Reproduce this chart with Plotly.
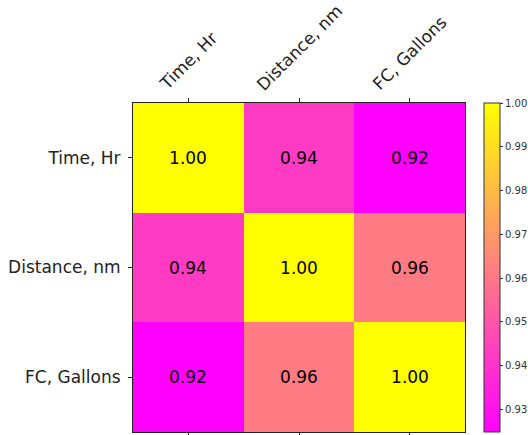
import plotly.graph_objects as go

labels = ["Time, Hr", "Distance, nm", "FC, Gallons"]
corr = [
    [1.00, 0.9422, 0.9248],
    [0.9422, 1.00, 0.9610],
    [0.9248, 0.9610, 1.00],
]
cbar_ticks = [0.93, 0.94, 0.95, 0.96, 0.97, 0.98, 0.99, 1.00]

zmin = min(min(r) for r in corr)

fig = go.Figure(go.Heatmap(
    z=corr, x=labels, y=labels,
    colorscale=[[0, "#ff00ff"], [1, "#ffff00"]],
    zmin=zmin, zmax=1.0,
    texttemplate="%{z:.2f}",
    textfont=dict(size=17, color="black", family="DejaVu Sans"),
    xgap=0, ygap=0,
    colorbar=dict(
        x=1.057, xanchor="left", xpad=0, ypad=0,
        y=0, yanchor="bottom", len=1, lenmode="fraction",
        thickness=16, outlinewidth=1, outlinecolor="#333",
        tickvals=cbar_ticks, ticktext=[f"{v:.2f}" for v in cbar_ticks],
        ticks="outside", ticklen=3, tickwidth=1, tickcolor="#333",
        tickfont=dict(size=10, color="#333", family="DejaVu Sans"),
    ),
))

# rotated column labels, centred over their ticks (matplotlib style)
for lab in labels:
    fig.add_annotation(
        x=lab, xref="x", y=1, yref="paper",
        text=lab, textangle=-45, showarrow=False,
        xanchor="center", yanchor="bottom", yshift=6,
        font=dict(size=17, color="#222", family="DejaVu Sans"),
    )

fig.update_xaxes(
    side="top", ticks="outside", ticklen=4, tickcolor="#222",
    showticklabels=False,
    showline=True, linecolor="#222", linewidth=1, mirror="ticks",
    showgrid=False, zeroline=False, automargin=False,
)
fig.update_yaxes(
    autorange="reversed", ticks="outside", ticklen=4, tickcolor="#222",
    showline=True, linecolor="#222", linewidth=1, mirror=True,
    tickfont=dict(size=17, color="#222", family="DejaVu Sans"),
    ticklabelstandoff=4,
    showgrid=False, zeroline=False, automargin=False,
)
fig.update_layout(
    width=528, height=435,
    margin=dict(l=133, r=63, t=103, b=3, autoexpand=False),
    paper_bgcolor="white", plot_bgcolor="white",
)
fig.write_html(
    "out.html",
    config={"displayModeBar": False},
    post_script="document.body.style.margin='0';document.body.style.overflow='hidden';",
)
